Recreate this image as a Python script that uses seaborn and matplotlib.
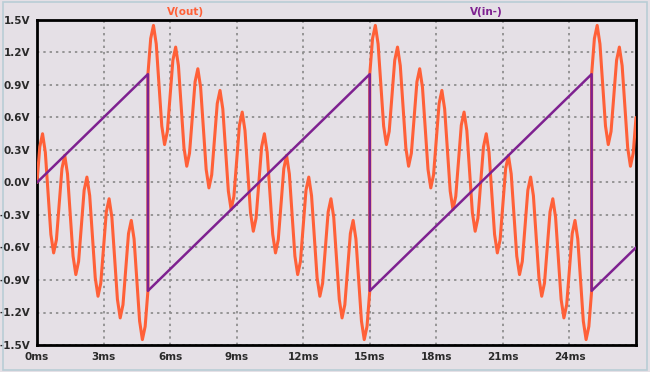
import numpy as np
import pandas as pd
import matplotlib
matplotlib.use("Agg")
import matplotlib.pyplot as plt
import seaborn as sns

# ---------------- data ----------------
# V(in-): sawtooth vertices (time in ms, volts)
t_in = [0, 5, 5, 15, 15, 25, 25, 27]
v_in = [0.0, 1.0, -1.0, 1.0, -1.0, 1.0, -1.0, -0.6]

# V(out): samples every 0.125 ms from 0 ms to 27 ms (one row per ms)
t_step = 0.125
vout = [
    0.000, 0.329, 0.450, 0.279, -0.100, -0.479, -0.650, -0.529,   # 0 ms
    -0.200, 0.129, 0.250, 0.079, -0.300, -0.679, -0.850, -0.729,  # 1 ms
    -0.400, -0.071, 0.050, -0.121, -0.500, -0.879, -1.050, -0.929,  # 2 ms
    -0.600, -0.271, -0.150, -0.321, -0.700, -1.079, -1.250, -1.129,  # 3 ms
    -0.800, -0.471, -0.350, -0.521, -0.900, -1.279, -1.450, -1.329,  # 4 ms
    1.000, 1.329, 1.450, 1.279, 0.900, 0.521, 0.350, 0.471,   # 5 ms
    0.800, 1.129, 1.250, 1.079, 0.700, 0.321, 0.150, 0.271,   # 6 ms
    0.600, 0.929, 1.050, 0.879, 0.500, 0.121, -0.050, 0.071,  # 7 ms
    0.400, 0.729, 0.850, 0.679, 0.300, -0.079, -0.250, -0.129,  # 8 ms
    0.200, 0.529, 0.650, 0.479, 0.100, -0.279, -0.450, -0.329,  # 9 ms
    0.000, 0.329, 0.450, 0.279, -0.100, -0.479, -0.650, -0.529,   # 10 ms
    -0.200, 0.129, 0.250, 0.079, -0.300, -0.679, -0.850, -0.729,  # 11 ms
    -0.400, -0.071, 0.050, -0.121, -0.500, -0.879, -1.050, -0.929,  # 12 ms
    -0.600, -0.271, -0.150, -0.321, -0.700, -1.079, -1.250, -1.129,  # 13 ms
    -0.800, -0.471, -0.350, -0.521, -0.900, -1.279, -1.450, -1.329,  # 14 ms
    1.000, 1.329, 1.450, 1.279, 0.900, 0.521, 0.350, 0.471,   # 15 ms
    0.800, 1.129, 1.250, 1.079, 0.700, 0.321, 0.150, 0.271,   # 16 ms
    0.600, 0.929, 1.050, 0.879, 0.500, 0.121, -0.050, 0.071,  # 17 ms
    0.400, 0.729, 0.850, 0.679, 0.300, -0.079, -0.250, -0.129,  # 18 ms
    0.200, 0.529, 0.650, 0.479, 0.100, -0.279, -0.450, -0.329,  # 19 ms
    0.000, 0.329, 0.450, 0.279, -0.100, -0.479, -0.650, -0.529,   # 20 ms
    -0.200, 0.129, 0.250, 0.079, -0.300, -0.679, -0.850, -0.729,  # 21 ms
    -0.400, -0.071, 0.050, -0.121, -0.500, -0.879, -1.050, -0.929,  # 22 ms
    -0.600, -0.271, -0.150, -0.321, -0.700, -1.079, -1.250, -1.129,  # 23 ms
    -0.800, -0.471, -0.350, -0.521, -0.900, -1.279, -1.450, -1.329,  # 24 ms
    1.000, 1.329, 1.450, 1.279, 0.900, 0.521, 0.350, 0.471,   # 25 ms
    0.800, 1.129, 1.250, 1.079, 0.700, 0.321, 0.150, 0.271,   # 26 ms
    0.600,                                                      # 27 ms
]
# values just before the jumps of V(out)
jump_t = [5, 15, 25]
jump_before = [-1.0, -1.0, -1.0]

x_ticks = [0, 3, 6, 9, 12, 15, 18, 21, 24]
x_labels = ["0ms", "3ms", "6ms", "9ms", "12ms", "15ms", "18ms", "21ms", "24ms"]
y_ticks = [1.5, 1.2, 0.9, 0.6, 0.3, 0.0, -0.3, -0.6, -0.9, -1.2, -1.5]
y_labels = ["1.5V", "1.2V", "0.9V", "0.6V", "0.3V", "0.0V", "-0.3V",
            "-0.6V", "-0.9V", "-1.2V", "-1.5V"]

# ---------------- build tables ----------------
t_out = [round(i * t_step, 3) for i in range(len(vout))]
pts = [(t, 1, v) for t, v in zip(t_out, vout)] + \
      [(t, 0, v) for t, v in zip(jump_t, jump_before)]
pts.sort(key=lambda p: (p[0], p[1]))
df_out = pd.DataFrame({"t": [p[0] for p in pts], "v": [p[2] for p in pts]})
df_in = pd.DataFrame({"t": t_in, "v": v_in})

# ---------------- style ----------------
sns.set_theme(style="white")
plt.rcParams["font.family"] = ["DejaVu Sans"]

BG = "#e5e0e6"
ORANGE = "#ff6038"
PURPLE = "#7e2190"

fig = plt.figure(figsize=(6.5, 3.72), dpi=100, facecolor=BG)
ax = fig.add_axes([37 / 650, 1 - 345 / 372, (636 - 37) / 650, (345 - 20) / 372])
ax.set_facecolor(BG)

# outer thin window border
fig.patches.append(plt.Rectangle((0.004, 0.006), 0.992, 0.988, transform=fig.transFigure,
                                 fill=False, edgecolor="#b9cdd6", linewidth=1.2))

sns.lineplot(data=df_out, x="t", y="v", ax=ax, color=ORANGE, linewidth=2.2,
             sort=False, estimator=None, zorder=3)
sns.lineplot(data=df_in, x="t", y="v", ax=ax, color=PURPLE, linewidth=1.8,
             sort=False, estimator=None, zorder=4)

ax.set_xlim(0, 27)
ax.set_ylim(-1.5, 1.5)
ax.set_xticks(x_ticks)
ax.set_xticklabels(x_labels)
ax.set_yticks(y_ticks)
ax.set_yticklabels(y_labels)
ax.set_xlabel("")
ax.set_ylabel("")

ax.grid(True, color="#8f8f8f", linestyle=(0, (1.3, 2.2)), linewidth=1.3, zorder=1)
for s in ax.spines.values():
    s.set_visible(True)
    s.set_color("black")
    s.set_linewidth(2.0)

ax.tick_params(axis="both", direction="out", length=4, width=1.8, color="black",
               labelsize=7.5, labelcolor="#2a2a2a", pad=1)
for lab in ax.get_xticklabels() + ax.get_yticklabels():
    lab.set_fontweight("bold")

fig.text(186 / 650, 1 - 12 / 372, "V(out)", color=ORANGE, fontsize=7.5,
         fontweight="bold", ha="center", va="center")
fig.text(486 / 650, 1 - 12 / 372, "V(in-)", color=PURPLE, fontsize=7.5,
         fontweight="bold", ha="center", va="center")

fig.savefig("out.png", dpi=100, facecolor=BG)
